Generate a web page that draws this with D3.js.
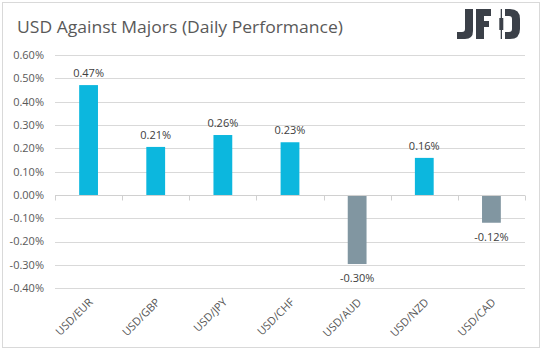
<!DOCTYPE html>
<html><head><meta charset="utf-8">
<script src="https://cdn.jsdelivr.net/npm/d3@7"></script>
<style>body{margin:0;background:#fff}svg{display:block}text{font-family:"Open Sans","Noto Sans",sans-serif}</style>
</head><body>
<svg id="c" width="543" height="351"></svg>
<script>
const categories = ["USD/EUR","USD/GBP","USD/JPY","USD/CHF","USD/AUD","USD/NZD","USD/CAD"];
const values = [0.471, 0.206, 0.257, 0.226, -0.296, 0.159, -0.119];
const yTicks = [0.6,0.5,0.4,0.3,0.2,0.1,0,-0.1,-0.2,-0.3,-0.4];
const title = "USD Against Majors (Daily Performance)";
const fmt = d => d3.format(".2f")(d).replace("\u2212","-") + "%";

const svg = d3.select("#c");
svg.append("rect").attr("x",2.5).attr("y",2.5).attr("width",537).attr("height",345)
  .attr("fill","#fff").attr("stroke","#d9d9d9");

const x = d3.scaleBand().domain(categories).range([55,525]).paddingInner(0.72).paddingOuter(0.36);
const xb = d3.scaleBand().domain(categories).range([55,525]);
const y = d3.scaleLinear().domain([-0.4,0.6]).range([288.3,55]);

svg.append("g").selectAll("line").data(yTicks.filter(d=>d!==0)).join("line")
  .attr("x1",55).attr("x2",525).attr("y1",d=>Math.round(y(d))+0.5).attr("y2",d=>Math.round(y(d))+0.5)
  .attr("stroke","#d9d9d9");

svg.append("g").selectAll("text").data(yTicks).join("text")
  .attr("x",44).attr("y",d=>y(d)).attr("dy","0.35em").attr("text-anchor","end")
  .attr("font-size",11).attr("fill","#595959")
  .text(d=>fmt(d));

svg.append("g").selectAll("rect").data(values).join("rect")
  .attr("x",(d,i)=>x(categories[i])).attr("width",x.bandwidth())
  .attr("y",d=>d>=0?y(d):y(0)).attr("height",d=>Math.abs(y(d)-y(0)))
  .attr("fill",d=>d>=0?"#0cb7de":"#8196a1");

const z = Math.round(y(0))+0.5;
svg.append("line").attr("x1",55).attr("x2",525).attr("y1",z).attr("y2",z).attr("stroke","#d0d0d0");
const bounds = categories.map(c=>xb(c)).concat([525]);
svg.append("g").selectAll("line").data(bounds).join("line")
  .attr("x1",d=>Math.round(d)+0.5).attr("x2",d=>Math.round(d)+0.5).attr("y1",z).attr("y2",z+5)
  .attr("stroke","#d0d0d0");

svg.append("g").selectAll("text").data(values).join("text")
  .attr("x",(d,i)=>x(categories[i])+x.bandwidth()/2)
  .attr("y",d=>d>=0?y(d)-8:y(d)+18)
  .attr("text-anchor","middle").attr("font-size",11).attr("fill","#404040")
  .text(d=>fmt(d));

svg.append("g").selectAll("text").data(categories).join("text")
  .attr("transform",c=>`translate(${x(c)+x.bandwidth()/2+5},${303}) rotate(-45)`)
  .attr("text-anchor","end").attr("font-size",11).attr("fill","#595959")
  .text(c=>c);

svg.append("text").attr("x",17).attr("y",33).attr("font-size",17).attr("fill","#595959")
  .attr("textLength",326).attr("lengthAdjust","spacingAndGlyphs").text(title);

const g = svg.append("g").attr("fill","#3b4048");
g.append("path").attr("d","M465,9 H473 V31 Q473,39 465,39 H457 V32 H462 Q465,32 465,29 Z");
g.append("path").attr("d","M476,9 H491 V16 H484 V21 H489 V27 H484 V39 H476 Z");
g.append("rect").attr("x",500.7).attr("y",9).attr("width",1.3).attr("height",30);
g.append("rect").attr("x",499.3).attr("y",18).attr("width",4).attr("height",12);
g.append("path").attr("d","M505,9 H510 Q520,9 520,19 V29 Q520,39 510,39 H505 V32 H509 Q512,32 512,29 V19 Q512,16 509,16 H505 Z");
</script>
</body></html>
